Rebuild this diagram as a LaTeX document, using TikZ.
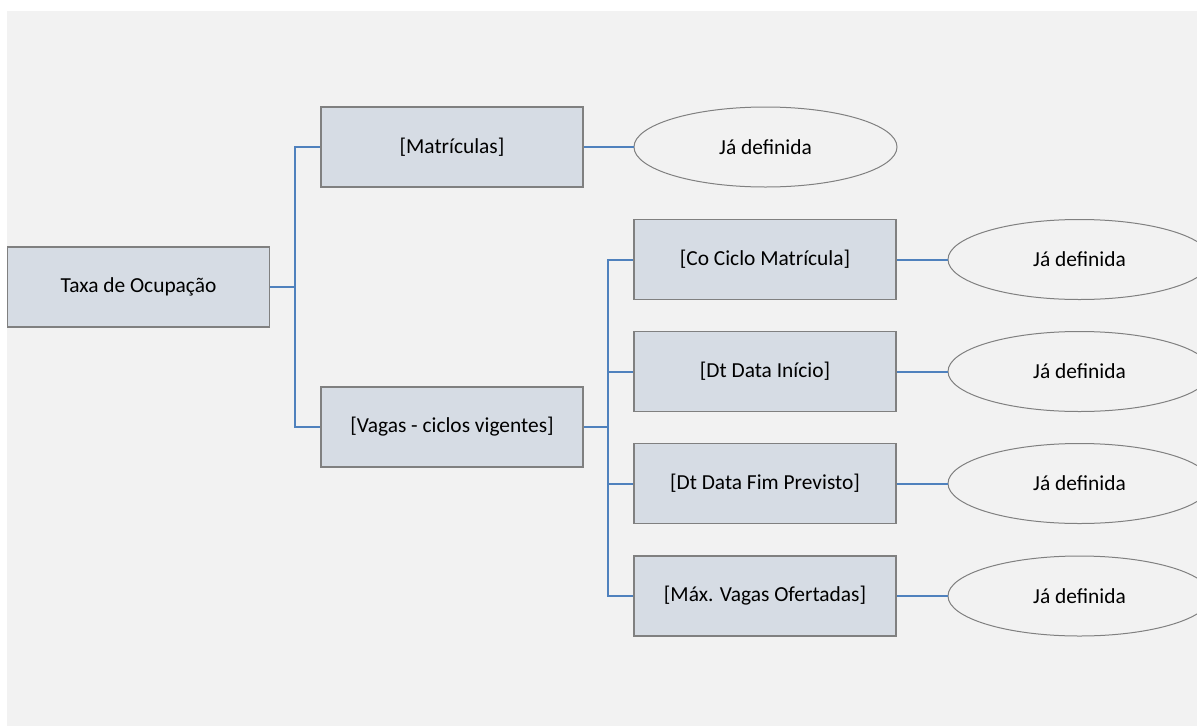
\documentclass[tikz,border=0pt]{standalone}
\usepackage{fontspec}
\setmainfont{Carlito}
\usetikzlibrary{shapes.geometric}
\definecolor{bgc}{HTML}{F2F2F2}
\definecolor{boxfill}{HTML}{D6DCE4}
\definecolor{boxline}{HTML}{808080}
\definecolor{linkc}{HTML}{4F81BD}
\tikzset{
  bx/.style={draw=boxline, line width=1.5pt, fill=boxfill, minimum width=262pt, minimum height=80pt, inner sep=0pt, font=\fontsize{21.4}{25}\selectfont},
  ell/.style={ellipse, draw=boxline, line width=1pt, fill=bgc, minimum width=263pt, minimum height=80pt, inner sep=0pt, font=\fontsize{21.4}{25}\selectfont},
  lnk/.style={draw=linkc, line width=2pt}
}
\begin{document}
\begin{tikzpicture}[x=1pt,y=-1pt]
\useasboundingbox (0,0) rectangle (1197,726);
\fill[white] (0,0) rectangle (1197,726);
\fill[bgc] (7,11) rectangle (1197,726);
\begin{scope}
\clip (0,0) rectangle (1197,726);
\node[bx] (taxa) at (138.5,287) {Taxa de Ocupação};
\node[bx] (mat) at (452,147) {[Matrículas]};
\node[bx] (vag) at (452,427) {[Vagas - ciclos vigentes]};
\node[ell] (emat) at (765.5,147) {Já definida};
\node[bx] (c1) at (765,259.5) {[Co Ciclo Matrícula]};
\node[bx] (c2) at (765,371.5) {[Dt Data Início]};
\node[bx] (c3) at (765,483.5) {[Dt Data Fim Previsto]};
\node[bx] (c4) at (765,596) {[Máx. Vagas Ofertadas]};
\node[ell] (e1) at (1079.5,259.5) {Já definida};
\node[ell] (e2) at (1079.5,371.5) {Já definida};
\node[ell] (e3) at (1079.5,483.5) {Já definida};
\node[ell] (e4) at (1079.5,596) {Já definida};
\coordinate (j1) at (294.5,287);
\coordinate (j2) at (608,427);
\draw[lnk] (taxa.east) -- (j1);
\draw[lnk] (j1) |- (mat.west);
\draw[lnk] (j1) |- (vag.west);
\draw[lnk] (vag.east) -- (j2);
\draw[lnk] (j2) |- (c1.west);
\draw[lnk] (j2) |- (c2.west);
\draw[lnk] (j2) |- (c3.west);
\draw[lnk] (j2) |- (c4.west);
\draw[lnk] (mat.east) -- (emat.west);
\draw[lnk] (c1.east) -- (e1.west);
\draw[lnk] (c2.east) -- (e2.west);
\draw[lnk] (c3.east) -- (e3.west);
\draw[lnk] (c4.east) -- (e4.west);
\end{scope}
\end{tikzpicture}
\end{document}
